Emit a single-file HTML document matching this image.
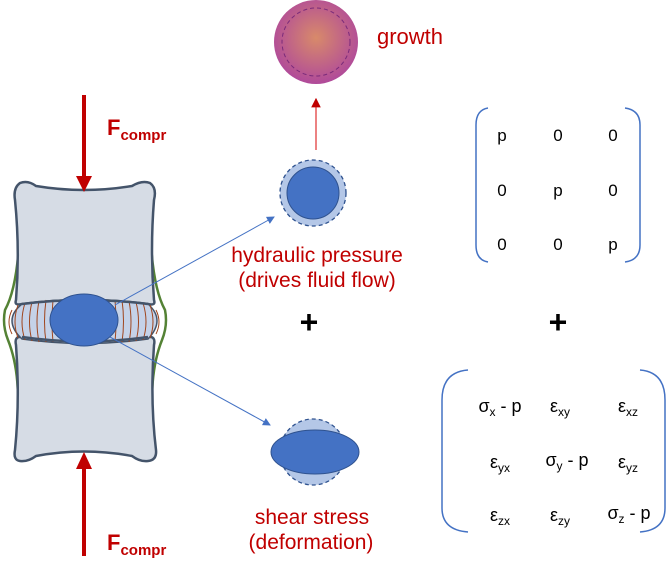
<!DOCTYPE html>
<html><head><style>
body{margin:0;background:#fff;width:669px;height:563px;overflow:hidden}
svg text{font-family:"Liberation Sans",sans-serif}
</style></head><body>
<svg width="669" height="563" viewBox="0 0 669 563">
<defs>
<radialGradient id="g" cx="50%" cy="45%" r="55%"><stop offset="0" stop-color="#d88a6a"/><stop offset="1" stop-color="#b04a9a"/></radialGradient>
<marker id="ab" markerWidth="8" markerHeight="8" refX="7" refY="4" orient="auto"><path d="M0,0L8,4L0,8z" fill="#4472c4"/></marker>
<marker id="ar" markerWidth="8" markerHeight="8" refX="7" refY="4" orient="auto"><path d="M0,0L8,4L0,8z" fill="#c00000"/></marker>
</defs>
<circle cx="316" cy="42" r="42" fill="url(#g)"/>
<circle cx="316" cy="42" r="34" fill="none" stroke="#7a2a7a" stroke-width="1" stroke-dasharray="4,3"/>
<text x="377" y="44" fill="#c00000" font-size="22">growth</text>
<line x1="316" y1="150" x2="316" y2="99" stroke="#e03030" stroke-width="1.2" marker-end="url(#ar)"/>
<circle cx="313" cy="193" r="33" fill="#b4c7e7" stroke="#2f528f" stroke-width="1.3" stroke-dasharray="4,3"/>
<circle cx="313" cy="193" r="26" fill="#4472c4" stroke="#2f528f"/>
<text x="317" y="262" fill="#c00000" font-size="21" text-anchor="middle">hydraulic pressure</text>
<text x="317" y="287" fill="#c00000" font-size="21" text-anchor="middle">(drives fluid flow)</text>
<text x="309" y="333" font-size="32" font-weight="bold" text-anchor="middle">+</text>
<text x="558" y="333" font-size="32" font-weight="bold" text-anchor="middle">+</text>
<circle cx="313" cy="452" r="33" fill="#b4c7e7" stroke="#2f528f" stroke-width="1.3" stroke-dasharray="4,3"/>
<ellipse cx="315" cy="452" rx="44" ry="22" fill="#4472c4" stroke="#2f528f"/>
<text x="312" y="524" fill="#c00000" font-size="21" text-anchor="middle">shear stress</text>
<text x="311" y="549" fill="#c00000" font-size="21" text-anchor="middle">(deformation)</text>
<path d="M19,245 Q16,290 5,310 Q2,325 8,340 Q18,365 18,400" fill="none" stroke="#548235" stroke-width="2.5"/>
<path d="M151,245 Q154,290 165,310 Q168,325 162,340 Q152,365 152,400" fill="none" stroke="#548235" stroke-width="2.5"/>
<path d="M20,183 Q28,180 36,186 Q84,194 132,186 Q142,180 150,183 Q157,188 154,200 Q150,250 154,300 Q156,306 148,304 Q84,296 22,304 Q14,306 16,300 Q20,250 15,200 Q13,188 20,183z" fill="#d6dce5" stroke="#44546a" stroke-width="2.5"/>
<path d="M22,337 Q84,346 148,337 Q156,336 154,345 Q150,400 156,450 Q157,460 148,461 Q140,462 132,456 Q84,447 36,456 Q28,462 20,461 Q13,460 15,450 Q20,400 16,345 Q14,336 22,337z" fill="#d6dce5" stroke="#44546a" stroke-width="2.5"/>
<path d="M22,304 Q84,295 148,304 Q166,320 148,339 Q84,348 22,339 Q2,320 22,304z" fill="#c5d2e8" stroke="#44546a" stroke-width="1.5"/>
<g stroke="#a0461e" stroke-width="1" fill="none">
<path d="M12,310 Q6,322 12,334"/><path d="M18,305 Q12,322 18,338"/><path d="M25,303 Q19,322 25,340"/><path d="M32,302 Q27,322 32,341"/><path d="M39,301 Q35,322 39,342"/><path d="M46,300 Q43,322 46,342"/><path d="M53,300 Q51,322 53,342"/>
<path d="M115,300 Q117,322 115,342"/><path d="M122,300 Q125,322 122,342"/><path d="M129,301 Q133,322 129,342"/><path d="M136,302 Q141,322 136,341"/><path d="M143,303 Q149,322 143,340"/><path d="M150,305 Q156,322 150,338"/><path d="M156,310 Q162,322 156,334"/>
</g>
<path d="M22,304 Q84,296 148,304" fill="none" stroke="#44546a" stroke-width="2.5"/>
<path d="M22,337 Q84,346 148,337" fill="none" stroke="#44546a" stroke-width="2.5"/>
<ellipse cx="84" cy="320" rx="34" ry="26" fill="#4472c4" stroke="#2f528f"/>
<line x1="115" y1="305" x2="274" y2="217" stroke="#4472c4" stroke-width="1" marker-end="url(#ab)"/>
<line x1="110" y1="337" x2="270" y2="425" stroke="#4472c4" stroke-width="1" marker-end="url(#ab)"/>
<line x1="84" y1="95" x2="84" y2="177" stroke="#c00000" stroke-width="4"/>
<path d="M76,176L92,176L84,192z" fill="#c00000"/>
<line x1="84" y1="556" x2="84" y2="468" stroke="#c00000" stroke-width="4"/>
<path d="M76,469L92,469L84,452z" fill="#c00000"/>
<text x="107" y="135" fill="#c00000" font-size="22" font-weight="bold">F<tspan font-size="15" dy="5">compr</tspan></text>
<text x="107" y="550" fill="#c00000" font-size="22" font-weight="bold">F<tspan font-size="15" dy="5">compr</tspan></text>
<path d="M488,108 Q476,110 476,125 L476,245 Q476,260 488,262" fill="none" stroke="#4472c4" stroke-width="1.5"/>
<path d="M625,108 Q640,110 640,125 L640,245 Q640,260 625,262" fill="none" stroke="#4472c4" stroke-width="1.5"/>
<g font-size="17" text-anchor="middle">
<text x="502" y="141">p</text><text x="558" y="141">0</text><text x="613" y="141">0</text>
<text x="502" y="196">0</text><text x="558" y="196">p</text><text x="613" y="196">0</text>
<text x="502" y="250">0</text><text x="558" y="250">0</text><text x="613" y="250">p</text>
</g>
<path d="M468,370 Q442,372 442,400 L442,508 Q442,530 468,532" fill="none" stroke="#4472c4" stroke-width="1.5"/>
<path d="M640,370 Q665,372 665,400 L665,508 Q665,530 640,532" fill="none" stroke="#4472c4" stroke-width="1.5"/>
<g font-size="18" text-anchor="middle">
<text x="500" y="412">σ<tspan font-size="12" dy="4">x</tspan><tspan dy="-4"> - p</tspan></text>
<text x="560" y="412">ε<tspan font-size="12" dy="4">xy</tspan></text>
<text x="628" y="412">ε<tspan font-size="12" dy="4">xz</tspan></text>
<text x="500" y="468">ε<tspan font-size="12" dy="4">yx</tspan></text>
<text x="567" y="466">σ<tspan font-size="12" dy="4">y</tspan><tspan dy="-4"> - p</tspan></text>
<text x="628" y="468">ε<tspan font-size="12" dy="4">yz</tspan></text>
<text x="500" y="521">ε<tspan font-size="12" dy="4">zx</tspan></text>
<text x="560" y="521">ε<tspan font-size="12" dy="4">zy</tspan></text>
<text x="629" y="519">σ<tspan font-size="12" dy="4">z</tspan><tspan dy="-4"> - p</tspan></text>
</g>
</svg>
</body></html>
